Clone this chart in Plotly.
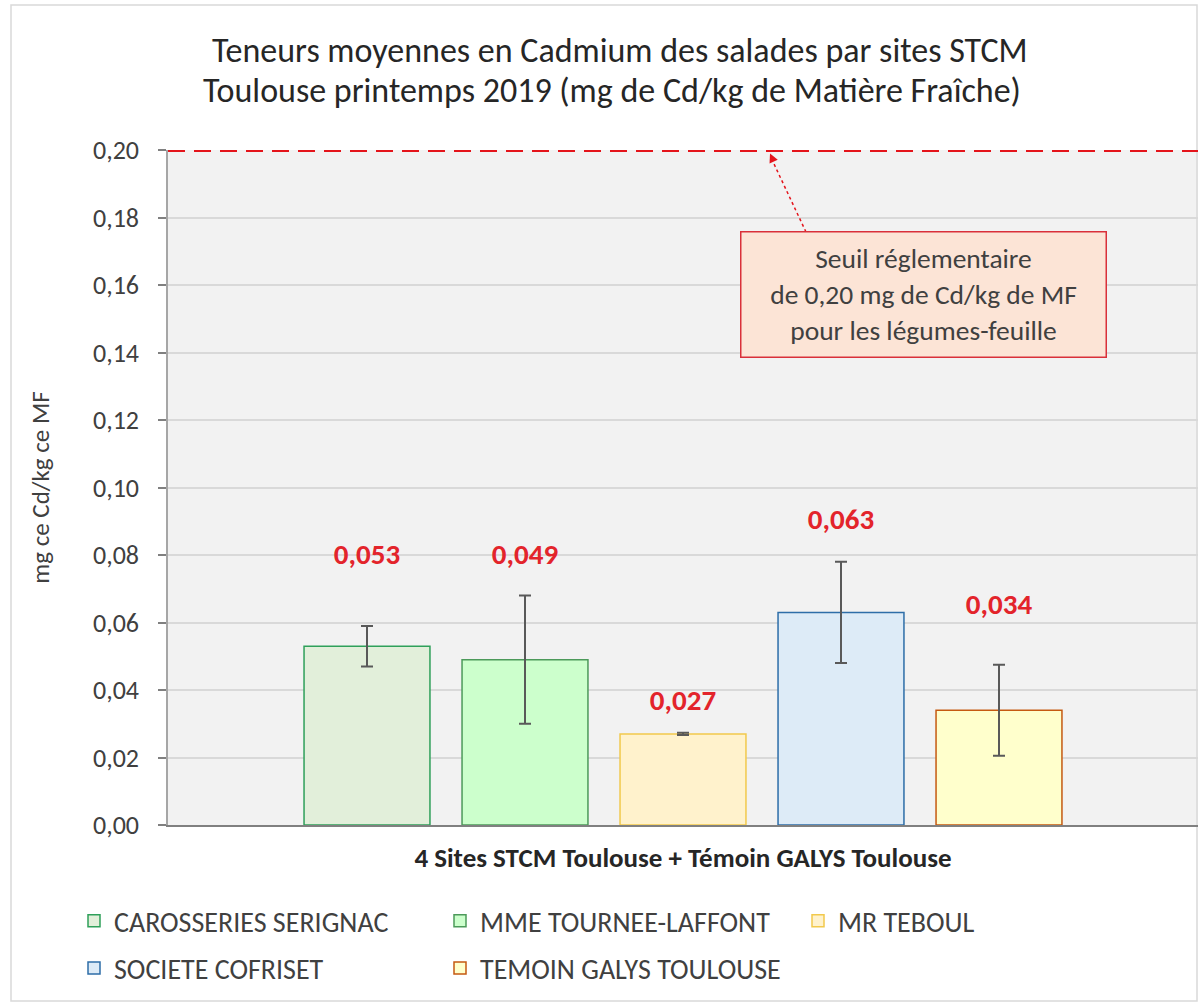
import plotly.graph_objects as go

# ---------------- data ----------------
sites = ["CAROSSERIES SERIGNAC", "MME TOURNEE-LAFFONT", "MR TEBOUL",
         "SOCIETE COFRISET", "TEMOIN GALYS TOULOUSE"]
values = [0.053, 0.049, 0.027, 0.063, 0.034]
errors = [0.006, 0.019, 0.0003, 0.015, 0.0135]
value_labels = ["0,053", "0,049", "0,027", "0,063", "0,034"]
label_heights = [0.0794, 0.0794, 0.0361, 0.0898, 0.0646]
threshold = 0.20
y_ticks = [0.00, 0.02, 0.04, 0.06, 0.08, 0.10, 0.12, 0.14, 0.16, 0.18, 0.20]

fills = ["#E2EFDA", "#CCFFCC", "#FFF2CC", "#DDEBF7", "#FFFFCC"]
lines = ["#2FA05A", "#4C9A5A", "#F2C94C", "#2E6EA8", "#C55A11"]
legend_ids = ["legend", "legend2", "legend3", "legend", "legend2"]

FONT = "Carlito, Lato, sans-serif"
W, H = 1198, 1003
L, R, T, B = 168, 0, 150, 178
PW, PH = W - L - R, H - T - B


def px_x(p):
    return (p - L) / PW


def px_y(p):
    return (H - B - p) / PH


fig = go.Figure()
for i, s in enumerate(sites):
    fig.add_trace(go.Bar(
        x=[s], y=[values[i]], name=s, legendgroup=s,
        marker=dict(color=fills[i], line=dict(color=lines[i], width=1.5)),
        error_y=dict(type="data", array=[errors[i]], color="#595959",
                     thickness=2, width=6),
        legend=legend_ids[i],
        showlegend=True,
    ))

fig.add_trace(go.Scatter(
    x=sites, y=label_heights, mode="text", text=value_labels,
    textfont=dict(family=FONT, size=29, color="#E3242B", weight="bold"),
    showlegend=False, hoverinfo="skip",
))

# threshold line
fig.add_shape(type="line", xref="paper", yref="y", x0=0, x1=1,
              y0=threshold, y1=threshold,
              line=dict(color="#E4141B", width=4, dash="17px,9px"))

# dotted arrow from box to threshold line
fig.add_shape(type="line", xref="paper", yref="y",
              x0=px_x(806), y0=0.1757, x1=px_x(773), y1=0.1965,
              line=dict(color="#E4141B", width=1.5, dash="dot"))
fig.add_annotation(xref="paper", yref="y", x=px_x(770), y=0.1990,
                   ax=4, ay=9, axref="pixel", ayref="pixel", text="",
                   showarrow=True, arrowhead=2, arrowsize=1.2, arrowwidth=1.5,
                   arrowcolor="#E4141B")

# threshold text box
fig.add_annotation(
    xref="paper", yref="paper", x=px_x(923), y=px_y(294),
    xanchor="center", yanchor="middle",
    text="Seuil réglementaire<br>de 0,20 mg de Cd/kg de MF<br>pour les légumes-feuille",
    showarrow=False, font=dict(family=FONT, size=27.5, color="#404040"),
    bgcolor="#FCE4D6", bordercolor="#D9303A", borderwidth=1.5,
    width=362, height=122, align="center",
)

# title (two lines)
fig.add_annotation(xref="paper", yref="paper", x=px_x(620), y=px_y(50),
                   xanchor="center", yanchor="middle",
                   text="Teneurs moyennes en Cadmium des salades par sites STCM",
                   showarrow=False, font=dict(family=FONT, size=34, color="#262626"))
fig.add_annotation(xref="paper", yref="paper", x=px_x(612), y=px_y(90),
                   xanchor="center", yanchor="middle",
                   text="Toulouse printemps 2019 (mg de Cd/kg de Matière Fraîche)",
                   showarrow=False, font=dict(family=FONT, size=34, color="#262626"))

# outer frame
fig.add_shape(type="rect", xref="paper", yref="paper",
              x0=px_x(11), x1=px_x(1197), y0=px_y(1001), y1=px_y(5),
              line=dict(color="#D9D9D9", width=1.5), layer="below")

legend_common = dict(
    orientation="v", xanchor="left", yanchor="top",
    font=dict(family=FONT, size=28, color="#404040"),
    bgcolor="rgba(0,0,0,0)", tracegroupgap=8, itemwidth=30,
)

fig.update_layout(
    width=W, height=H,
    margin=dict(l=L, r=R, t=T, b=B),
    paper_bgcolor="white", plot_bgcolor="#F2F2F2",
    separators=", ",
    bargap=0.203,
    font=dict(family=FONT, color="#404040"),
    legend=dict(x=px_x(74), y=px_y(896), **legend_common),
    legend2=dict(x=px_x(440), y=px_y(896), **legend_common),
    legend3=dict(x=px_x(798), y=px_y(896), **legend_common),
    xaxis=dict(
        type="category", categoryorder="array", categoryarray=sites,
        range=[-(367 - 168) / 158, (1198 - 367) / 158],
        showticklabels=False, ticks="", showgrid=False, zeroline=False,
        showline=True, linecolor="#808080", linewidth=2,
        title=dict(text="<b>4 Sites STCM Toulouse + Témoin GALYS Toulouse</b>",
                   font=dict(family=FONT, size=27, color="#262626"), standoff=22),
    ),
    yaxis=dict(
        range=[0, 0.2], tickvals=y_ticks, tickformat=".2f",
        tickfont=dict(family=FONT, size=26, color="#404040"),
        ticks="outside", ticklen=8, tickcolor="#808080", tickwidth=1.5,
        ticklabelstandoff=14,
        showline=True, linecolor="#A6A6A6", linewidth=1.5,
        gridcolor="#D9D9D9", gridwidth=1.5, zeroline=False,
        title=dict(text="mg ce Cd/kg ce MF",
                   font=dict(family=FONT, size=25, color="#404040"), standoff=36),
    ),
)

fig.write_html("out.html", config={"displayModeBar": False},
               post_script="document.body.style.margin='0px';")
